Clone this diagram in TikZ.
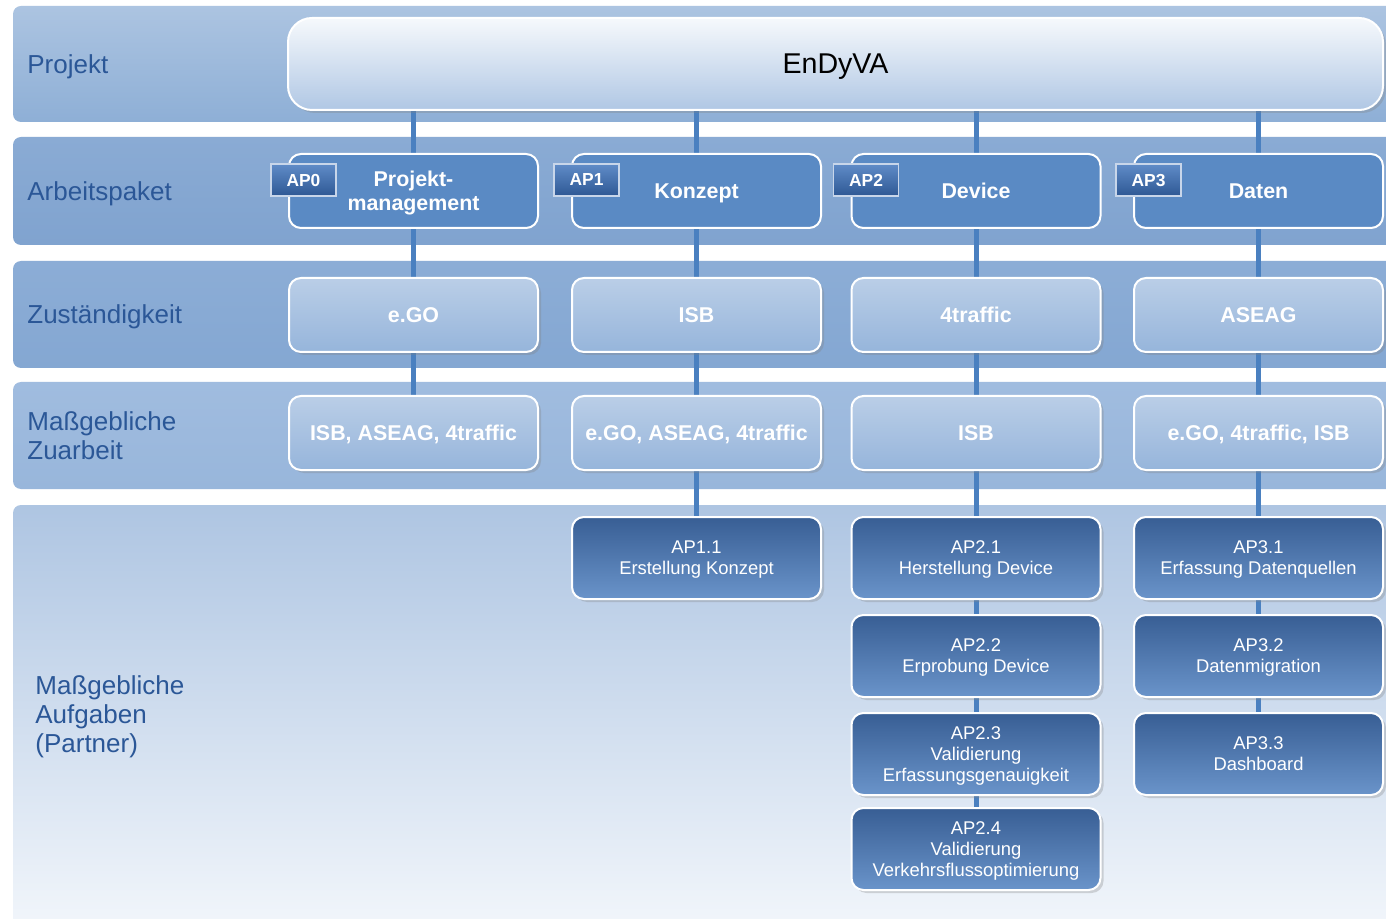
\documentclass[tikz,border=0pt]{standalone}
\usepackage{fontspec}
\setmainfont{Liberation Sans}
\usetikzlibrary{positioning}
\usetikzlibrary{shadows}
\pgfdeclarelayer{bands}
\pgfdeclarelayer{links}
\pgfsetlayers{bands,links,main}
\definecolor{lblue}{RGB}{43, 87, 151}
\definecolor{linkblue}{RGB}{74, 128, 192}
\definecolor{pkgblue}{RGB}{90, 138, 196}
\definecolor{tagtop}{RGB}{96, 140, 200}
\definecolor{tagbot}{RGB}{46, 88, 148}
\definecolor{tagline}{RGB}{200, 214, 234}
\definecolor{partytop}{RGB}{186, 206, 231}
\definecolor{partybot}{RGB}{150, 181, 219}
\definecolor{tasktop}{RGB}{56, 94, 148}
\definecolor{taskbot}{RGB}{106, 148, 202}
\definecolor{projtop}{RGB}{246, 249, 252}
\definecolor{projbot}{RGB}{176, 199, 228}
\tikzset{cell/.style = {rectangle, rounded corners=6pt, draw=white, line width=1pt,
                        minimum width=124.5pt, minimum height=37pt, inner sep=0,
                        text depth=0pt, align=center, text=white}}
\tikzset{softshadow/.style = {drop shadow={shadow xshift=1.5pt, shadow yshift=-1.5pt,
                                           opacity=0.3}}}
\tikzset{pkg/.style = {cell, fill=pkgblue, font=\bfseries\fontsize{10.7}{12}\selectfont}}
\tikzset{tag/.style = {rectangle, draw=tagline, line width=0.6pt, top color=tagtop,
                       bottom color=tagbot, minimum width=32.5pt, minimum height=16pt,
                       inner sep=0, text depth=0pt, text=white,
                       font=\bfseries\fontsize{8.7}{10}\selectfont}}
\tikzset{party/.style = {cell, softshadow, top color=partytop, bottom color=partybot,
                         font=\bfseries\fontsize{10.7}{12}\selectfont}}
\tikzset{task/.style = {cell, softshadow, minimum height=41pt, top color=tasktop,
                        bottom color=taskbot, font=\fontsize{9.2}{10.5}\selectfont}}
\tikzset{rowlabel/.style = {anchor=west, align=left, inner sep=0, text depth=0pt, text=lblue,
                            font=\fontsize{13}{14.5}\selectfont}}
\tikzset{link/.style = {draw=linkblue, line width=2.5pt}}
\tikzset{band/.style = {rounded corners=4pt}}

\begin{document}
\begin{tikzpicture}[x=0.5pt, y=-0.5pt]
    \useasboundingbox (0, 0) rectangle (1386, 919);

    % project
    \node [cell, softshadow, minimum width=547.5pt, minimum height=46pt, rounded corners=12pt,
           top color=projtop, bottom color=projbot, text=black,
           font=\fontsize{14.3}{16}\selectfont] (proj) at (835.5, 64) {EnDyVA};

    % work packages
    \node [pkg] (wp0) at (413.5, 191) {Projekt-\\management};
    \node [pkg] (wp1) at (696.5, 191) {Konzept};
    \node [pkg] (wp2) at (976, 191) {Device};
    \node [pkg] (wp3) at (1258.5, 191) {Daten};

    \node [tag] (ap0) at ([xshift=7.75pt, yshift=-13.5pt] wp0.north west) {AP0};
    \node [tag] (ap1) at ([xshift=7.75pt, yshift=-13.5pt] wp1.north west) {AP1};
    \node [tag] (ap2) at ([xshift=7.75pt, yshift=-13.5pt] wp2.north west) {AP2};
    \node [tag] (ap3) at ([xshift=7.75pt, yshift=-13.5pt] wp3.north west) {AP3};

    % partners
    \node [party] (resp0) at (413.5, 315) {e.GO};
    \node [party] (resp1) at (696.5, 315) {ISB};
    \node [party] (resp2) at (976, 315) {4traffic};
    \node [party] (resp3) at (1258.5, 315) {ASEAG};

    \node [party] (supp0) at (413.5, 433) {ISB, ASEAG, 4traffic};
    \node [party] (supp1) at (696.5, 433) {e.GO, ASEAG, 4traffic};
    \node [party] (supp2) at (976, 433) {ISB};
    \node [party] (supp3) at (1258.5, 433) {e.GO, 4traffic, ISB};

    % tasks
    \node [task] (t11) at (696.5, 558) {AP1.1\\Erstellung Konzept};

    \node [task] (t21) at (976, 558) {AP2.1\\Herstellung Device};
    \node [task] (t22) at (976, 656) {AP2.2\\Erprobung Device};
    \node [task] (t23) at (976, 754) {AP2.3\\Validierung\\Erfassungsgenauigkeit};
    \node [task] (t24) at (976, 849) {AP2.4\\Validierung\\Verkehrsflussoptimierung};

    \node [task] (t31) at (1258.5, 558) {AP3.1\\Erfassung Datenquellen};
    \node [task] (t32) at (1258.5, 656) {AP3.2\\Datenmigration};
    \node [task] (t33) at (1258.5, 754) {AP3.3\\Dashboard};

    % row labels
    \node [rowlabel] (lproj) at (27, 64) {Projekt};
    \node [rowlabel] (lwp) at (27, 191) {Arbeitspaket};
    \node [rowlabel] (lresp) at (27, 314) {Zuständigkeit};
    \node [rowlabel] (lsupp) at (27, 436) {Maßgebliche\\Zuarbeit};
    \node [rowlabel] (ltask) at (35, 714) {Maßgebliche\\Aufgaben\\(Partner)};

    \begin{pgfonlayer}{links}
      \draw [link] (wp0 |- proj.south) -- (wp0) -- (resp0) -- (supp0);
      \draw [link] (wp1 |- proj.south) -- (wp1) -- (resp1) -- (supp1) -- (t11);
      \draw [link] (wp2 |- proj.south) -- (wp2) -- (resp2) -- (supp2) -- (t21) -- (t22) -- (t23) -- (t24);
      \draw [link] (wp3 |- proj.south) -- (wp3) -- (resp3) -- (supp3) -- (t31) -- (t32) -- (t33);
    \end{pgfonlayer}

    \begin{pgfonlayer}{bands}
      \fill [white] (0, 0) rectangle (1386, 919);
      \clip (0, 0) rectangle (1386, 919);
      \shade [band, top color={rgb,255:red,172;green,196;blue,225}, bottom color={rgb,255:red,142;green,175;blue,214}] (13, 6) rectangle (1400, 122);
      \shade [band, top color={rgb,255:red,138;green,171;blue,212}, bottom color={rgb,255:red,128;green,163;blue,207}] (13, 137) rectangle (1400, 245);
      \shade [band, top color={rgb,255:red,140;green,173;blue,214}, bottom color={rgb,255:red,132;green,167;blue,210}] (13, 261) rectangle (1400, 368);
      \shade [band, top color={rgb,255:red,160;green,188;blue,223}, bottom color={rgb,255:red,152;green,182;blue,219}] (13, 382) rectangle (1400, 489);
      \shade [band, top color={rgb,255:red,174;green,197;blue,226}, bottom color={rgb,255:red,242;green,246;blue,251}] (13, 505) rectangle (1400, 930);
    \end{pgfonlayer}
\end{tikzpicture}
\end{document}
